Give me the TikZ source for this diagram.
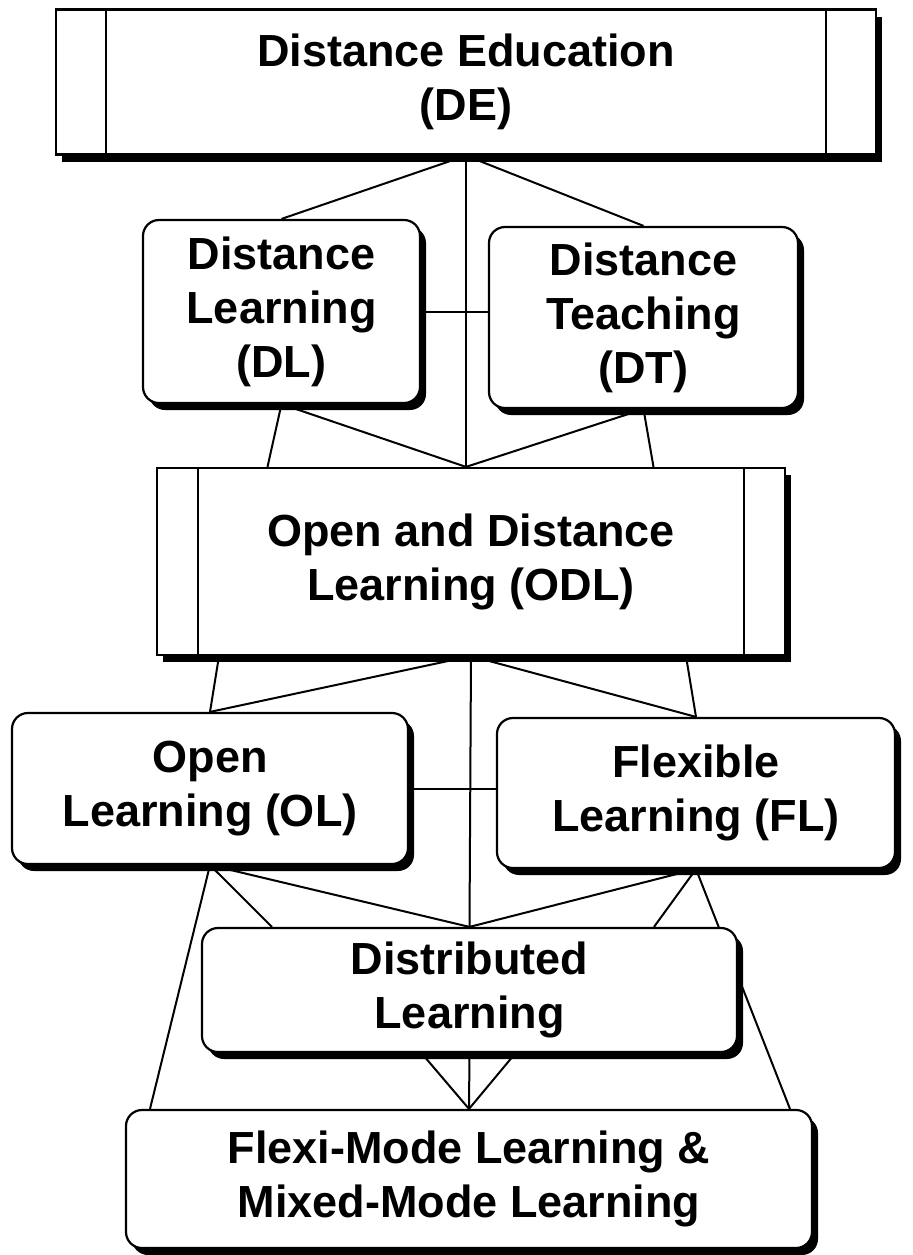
\documentclass[tikz,border=0pt]{standalone}
\usepackage{fontspec}
\newfontfamily\diagfont{Liberation Sans}
\usetikzlibrary{calc,shadows,backgrounds}

\begin{document}
\begin{tikzpicture}[
  x=0.5pt, y=-0.5pt,
  every node/.style={font=\diagfont\bfseries\fontsize{22.5pt}{27pt}\selectfont, align=center},
  rbox/.style={rectangle, rounded corners=8pt, draw, fill=white, line width=1.1pt,
    drop shadow={shadow xshift=3pt, shadow yshift=-3.5pt, opacity=1, fill=black}},
  process/.style={rectangle, draw, fill=white, line width=1.1pt,
    drop shadow={shadow xshift=3pt, shadow yshift=-3.5pt, opacity=1, fill=black},
    path picture={
      \draw[line width=0.7pt]
        ([xshift=#1]path picture bounding box.north west) -- ([xshift=#1]path picture bounding box.south west)
        ([xshift=-#1]path picture bounding box.north east) -- ([xshift=-#1]path picture bounding box.south east);}},
  link/.style={line width=1pt}
]
\useasboundingbox (0,0) rectangle (912,1255);

\node[process=25pt, minimum width=410pt, minimum height=72.5pt] (de) at (466,82) {Distance Education\\(DE)};
\node[rbox, minimum width=138.5pt, minimum height=91.5pt] (dl) at (281.5,311.5) {Distance\\Learning\\(DL)};
\node[rbox, minimum width=154.5pt, minimum height=90.5pt] (dt) at (643.5,317.5) {Distance\\Teaching\\(DT)};
\node[process=20.5pt, minimum width=314pt, minimum height=93.5pt] (odl) at (471,561.5) {Open and Distance\\Learning (ODL)};
\node[rbox, minimum width=198pt, minimum height=75.5pt] (ol) at (210,788.5) {Open\\Learning (OL)};
\node[rbox, minimum width=199pt, minimum height=75pt] (fl) at (696,793) {Flexible\\Learning (FL)};
\node[rbox, minimum width=267.5pt, minimum height=62pt] (dist) at (469.5,990) {Distributed\\Learning};
\node[rbox, minimum width=343pt, minimum height=69pt] (fmml) at (469,1179) {Flexi-Mode Learning \&\\Mixed-Mode Learning};

\coordinate (odltop) at (de.south |- odl.north);

\begin{scope}[on background layer]
% DE down to DL / DT / ODL
\draw[link] (de.south) -- (dl.north);
\draw[link] (de.south) -- (dt.north);
\draw[link] (de.south) -- (odltop);
\draw[link] (dl.east) -- (dl.east -| dt.west);
% DL / DT down to ODL
\draw[link] (dl.south) -- (odltop);
\draw[link] (dl.south) -- ($(odl.north -| dl.south)+(-14,0)$);
\draw[link] (dt.south) -- (odltop);
\draw[link] (dt.south) -- ($(odl.north -| dt.south)+(10,0)$);
% ODL down to OL / FL / Distributed
\draw[link] (odl.south) -- (ol.north);
\draw[link] (odl.south) -- (fl.north);
\draw[link] (odl.south) -- (dist.north);
\draw[link] ($(odl.south -| ol.north)+(9,0)$) -- (ol.north);
\draw[link] ($(odl.south -| fl.north)+(-10,0)$) -- (fl.north);
\draw[link] (ol.east) -- (ol.east -| fl.west);
% OL / FL down to Distributed and Flexi-Mode
\draw[link] (ol.south) -- (dist.north);
\draw[link] (ol.south) -- ($(dist.north -| ol.south)+(62,0)$);
\draw[link] (ol.south) -- ($(fmml.north -| ol.south)+(-60,0)$);
\draw[link] (fl.south) -- (dist.north);
\draw[link] (fl.south) -- ($(dist.north -| fl.south)+(-42,0)$);
\draw[link] (fl.south) -- ($(fmml.north -| fl.south)+(94,0)$);
% Distributed down to Flexi-Mode
\draw[link] (dist.south) -- (fmml.north);
\draw[link] ($(dist.south)+(-48,0)$) -- (fmml.north);
\draw[link] ($(dist.south)+(46,0)$) -- (fmml.north);
\end{scope}
\end{tikzpicture}
\end{document}
